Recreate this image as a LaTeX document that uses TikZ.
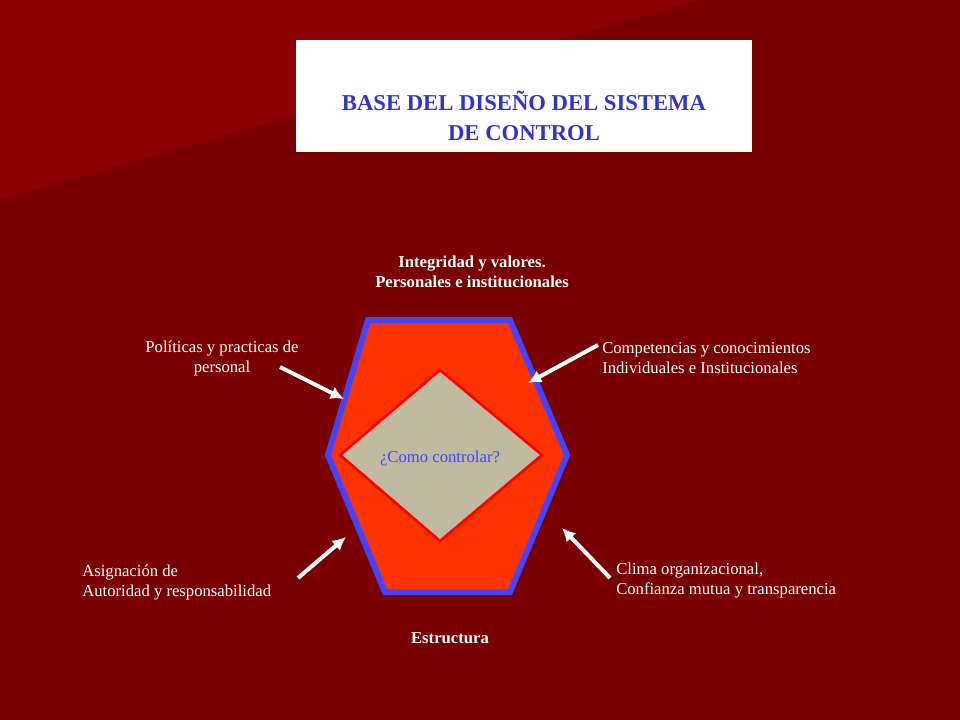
\documentclass[tikz,border=0pt]{standalone}
\usepackage{fontspec}
\setmainfont{Liberation Serif}
\begin{document}
\begin{tikzpicture}[x=0.75pt,y=-0.75pt,
  lbl/.style={text=white,font=\fontsize{12.5}{15}\selectfont,inner sep=0pt},
  arr/.style={white,line width=3pt,-{Latex[length=10pt,width=10pt]}}]
\usetikzlibrary{arrows.meta}
\fill[fill={rgb,255:red,122;green,0;blue,0}] (0,0) rectangle (960,720);
\fill[fill={rgb,255:red,140;green,0;blue,4}] (0,0) -- (700,0) -- (0,200) -- cycle;
\useasboundingbox (0,0) rectangle (960,720);
\node[fill=white,minimum width=456*0.75pt,minimum height=112*0.75pt,inner sep=0pt] (title) at (524,96) {};
\node[text={rgb,255:red,51;green,51;blue,204},font=\fontsize{17}{22.5}\selectfont\bfseries,align=center] at (524,116) {BASE DEL DISEÑO DEL SISTEMA\\DE CONTROL};
\draw[draw={rgb,255:red,68;green,68;blue,255},line width=4.5pt,fill={rgb,255:red,255;green,51;blue,0},line join=miter]
 (368,320) -- (510,320) -- (567,455) -- (510,592) -- (385,592) -- (328,455) -- cycle;
\draw[draw=red,line width=2pt,fill={rgb,255:red,192;green,186;blue,160}]
 (440,370) -- (542,455) -- (440,541) -- (340,455) -- cycle;
\node[text={rgb,255:red,68;green,68;blue,255},font=\fontsize{12.5}{15}\selectfont] (c) at (440,458) {¿Como controlar?};
\node[lbl,font=\fontsize{12.5}{15}\selectfont\bfseries,align=center] (t) at (472,272) {Integridad y valores.\\Personales e institucionales};
\node[lbl,align=center] (l1) at (222,358) {Políticas y practicas de\\personal};
\node[lbl,align=left,anchor=west] (r1) at (602,358) {Competencias y conocimientos\\Individuales e Institucionales};
\node[lbl,align=left,anchor=west] (l2) at (82,583) {Asignación de\\Autoridad y responsabilidad};
\node[lbl,align=left,anchor=west] (r2) at (616,581) {Clima organizacional,\\Confianza mutua y transparencia};
\node[lbl,font=\fontsize{12.5}{15}\selectfont\bfseries] (b) at (450,638) {Estructura};
\coordinate (a1s) at (280,367); \coordinate (a1e) at (344,399);
\coordinate (a2s) at (598,345); \coordinate (a2e) at (528,383);
\coordinate (a3s) at (298,578); \coordinate (a3e) at (346,537);
\coordinate (a4s) at (610,578); \coordinate (a4e) at (562,528);
\draw[arr] (a1s) -- (a1e);
\draw[arr] (a2s) -- (a2e);
\draw[arr] (a3s) -- (a3e);
\draw[arr] (a4s) -- (a4e);
\end{tikzpicture}
\end{document}
